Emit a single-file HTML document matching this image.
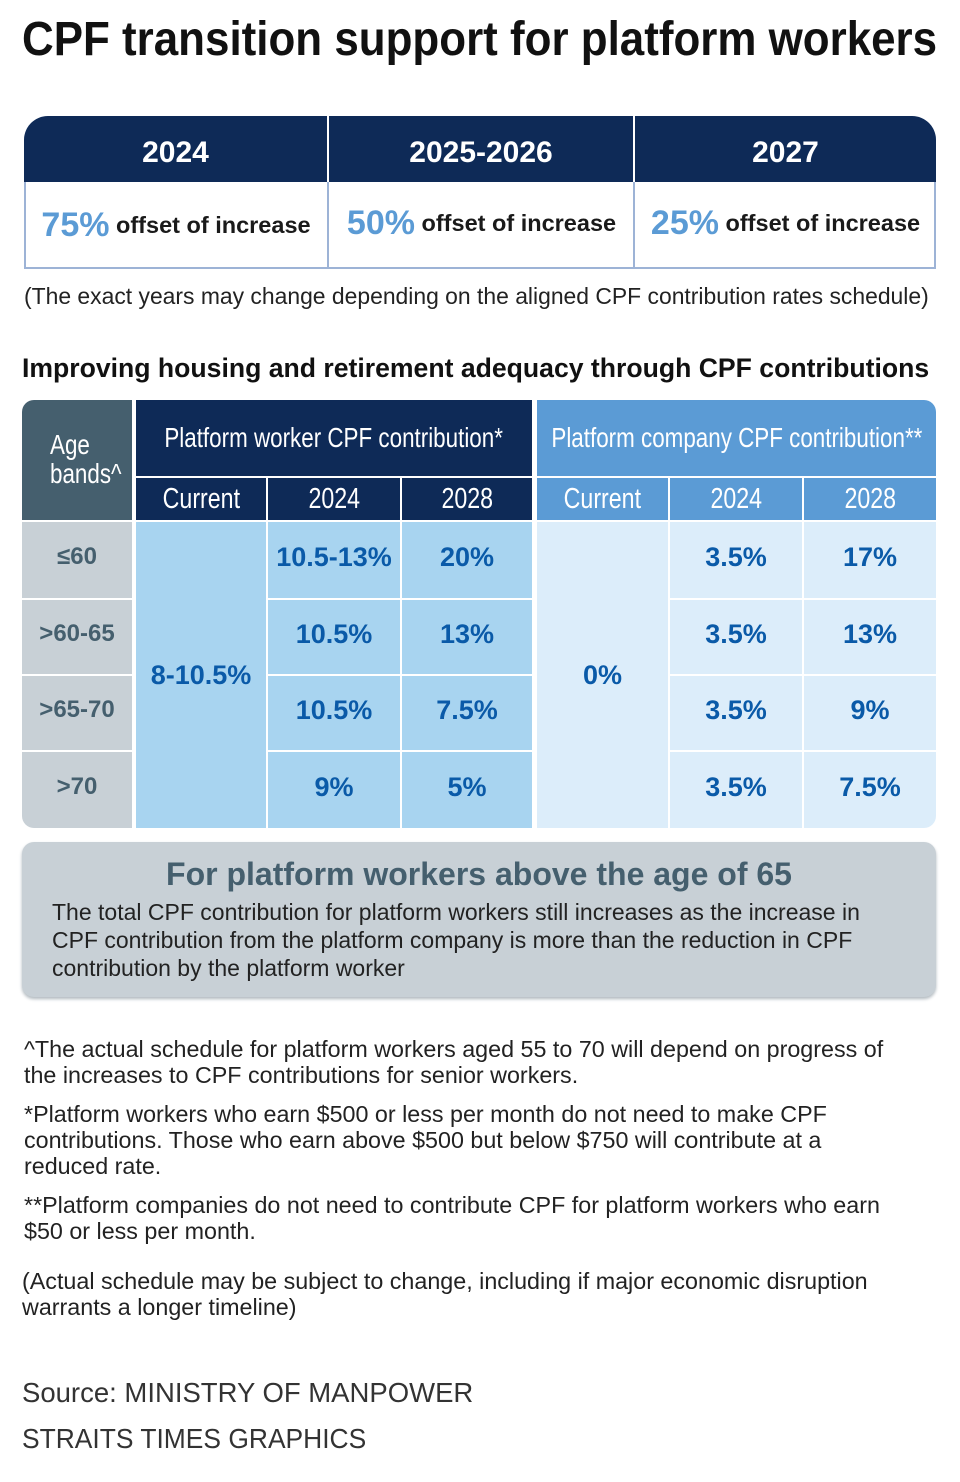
<!DOCTYPE html>
<html><head><meta charset="utf-8"><style>
body{margin:0;width:960px;height:1482px;background:#fff;position:relative;font-family:"Liberation Sans",sans-serif;color:#1a1a1a;overflow:hidden}
.a{position:absolute;box-sizing:border-box}
.c{display:flex;align-items:center;justify-content:center;text-align:center}
.n span{display:inline-block;transform:scaleX(0.8);white-space:nowrap}
.hd{background:#0e2a57;color:#fff}
.co{background:#5b9bd5;color:#fff}
.ag{background:#c8d0d6;color:#455f6e;font-weight:bold;font-size:24px}
.wv{background:#a8d4f0;color:#0a5aa8;font-weight:bold;font-size:27px}
.cv{background:#dcedfa;color:#0a5aa8;font-weight:bold;font-size:27px}
.off{font-size:23.5px;font-weight:bold;color:#1a1a1a}
.off b{font-size:34px;color:#5b9bd5}
.fn{font-size:23.3px;line-height:26px;color:#222}
</style></head><body>
<div class="a" style="left:22px;top:12px;font-size:48px;font-weight:bold;color:#111;white-space:nowrap;transform:scaleX(0.915);transform-origin:left top">CPF transition support for platform workers</div>

<div class="a" style="left:24px;top:116px;width:912px;height:153px;border:2px solid #9db3d6;border-top:none;border-radius:24px 24px 0 0;overflow:hidden"></div>
<div class="a hd c" style="left:24px;top:116px;width:303px;height:66px;font-size:30px;font-weight:bold;padding-top:8px;border-radius:24px 0 0 0">2024</div>
<div class="a hd c" style="left:329px;top:116px;width:304px;height:66px;font-size:30px;font-weight:bold;padding-top:8px">2025-2026</div>
<div class="a hd c" style="left:635px;top:116px;width:301px;height:66px;font-size:30px;font-weight:bold;padding-top:8px;border-radius:0 24px 0 0">2027</div>
<div class="a c off" style="left:24px;top:182px;width:304px;height:86px"><b>75%</b>&nbsp;offset of increase</div>
<div class="a" style="left:327px;top:182px;width:2px;height:86px;background:#9db3d6"></div>
<div class="a c off" style="left:329px;top:182px;width:305px;height:82px"><b>50%</b>&nbsp;offset of increase</div>
<div class="a" style="left:633px;top:182px;width:2px;height:86px;background:#9db3d6"></div>
<div class="a c off" style="left:635px;top:182px;width:301px;height:82px"><b>25%</b>&nbsp;offset of increase</div>
<div class="a" style="left:24px;top:283px;font-size:22.9px;color:#222;white-space:nowrap">(The exact years may change depending on the aligned CPF contribution rates schedule)</div>

<div class="a" style="left:22px;top:353px;font-size:26.6px;font-weight:bold;color:#111;white-space:nowrap">Improving housing and retirement adequacy through CPF contributions</div>

<div class="a n" style="left:22px;top:400px;width:110px;height:120px;background:#455f6e;color:#fff;font-size:28px;border-radius:12px 0 0 0;padding:30px 0 0 28px;line-height:29px"><span style="transform-origin:left">Age</span><br><span style="transform-origin:left">bands^</span></div>
<div class="a hd c n" style="left:136px;top:400px;width:396px;height:76px;font-size:28px"><span>Platform worker CPF contribution*</span></div>
<div class="a co c n" style="left:537px;top:400px;width:399px;height:76px;font-size:28px;border-radius:0 12px 0 0"><span>Platform company CPF contribution**</span></div>
<div class="a hd c n" style="left:136px;top:478px;width:130px;height:42px;font-size:29px"><span>Current</span></div>
<div class="a hd c n" style="left:268px;top:478px;width:132px;height:42px;font-size:29px"><span>2024</span></div>
<div class="a hd c n" style="left:402px;top:478px;width:130px;height:42px;font-size:29px"><span>2028</span></div>
<div class="a co c n" style="left:537px;top:478px;width:131px;height:42px;font-size:29px"><span>Current</span></div>
<div class="a co c n" style="left:670px;top:478px;width:132px;height:42px;font-size:29px"><span>2024</span></div>
<div class="a co c n" style="left:804px;top:478px;width:132px;height:42px;font-size:29px"><span>2028</span></div>

<div class="a wv c" style="left:136px;top:522px;width:130px;height:306px">8-10.5%</div>
<div class="a cv c" style="left:537px;top:522px;width:131px;height:306px">0%</div>

<div id="rows"></div>

<div class="a" style="left:22px;top:842px;width:914px;height:155px;background:#c8d0d6;border-radius:12px;box-shadow:0 2px 3px #b0b8be"></div>
<div class="a c" style="left:22px;top:854px;width:914px;height:40px;font-size:32px;font-weight:bold;color:#455f6e">For platform workers above the age of 65</div>
<div class="a" style="left:52px;top:898px;width:860px;font-size:23px;line-height:28px;color:#222">The total CPF contribution for platform workers still increases as the increase in CPF contribution from the platform company is more than the reduction in CPF contribution by the platform worker</div>

<div class="a fn" style="left:24px;top:1036px;width:880px">^The actual schedule for platform workers aged 55 to 70 will depend on progress of the increases to CPF contributions for senior workers.</div>
<div class="a fn" style="left:24px;top:1101px;width:850px">*Platform workers who earn $500 or less per month do not need to make CPF contributions. Those who earn above $500 but below $750 will contribute at a reduced rate.</div>
<div class="a fn" style="left:24px;top:1192px;width:900px">**Platform companies do not need to contribute CPF for platform workers who earn $50 or less per month.</div>
<div class="a fn" style="left:22px;top:1268px;width:880px">(Actual schedule may be subject to change, including if major economic disruption warrants a longer timeline)</div>
<div class="a" style="left:22px;top:1377px;font-size:27.5px;color:#333">Source: MINISTRY OF MANPOWER</div>
<div class="a" style="left:22px;top:1423px;font-size:27.5px;color:#333;transform:scaleX(0.96);transform-origin:left">STRAITS TIMES GRAPHICS</div>

<script>
const ageBands=["≤60",">60-65",">65-70",">70"];
const worker2024=["10.5-13%","10.5%","10.5%","9%"];
const worker2028=["20%","13%","7.5%","5%"];
const company2024=["3.5%","3.5%","3.5%","3.5%"];
const company2028=["17%","13%","9%","7.5%"];
const host=document.getElementById('rows');
const tops=[522,600,676,752],hs=[76,74,74,76];
function cell(cls,x,w,i,txt,name){
  const d=document.createElement('div');
  d.className='a c '+cls;
  d.style.cssText=`left:${x}px;top:${tops[i]}px;width:${w}px;height:${hs[i]}px;padding-bottom:6px`+(cls==='ag'&&i===3?';border-radius:0 0 0 12px':'')+(x===804&&i===3?';border-radius:0 0 12px 0':'');
  d.textContent=txt;
  
  
  host.appendChild(d);
}
ageBands.forEach((a,i)=>{
  cell('ag',22,110,i,a,'age-band-cell');
  cell('wv',268,132,i,worker2024[i],'worker-2024-cell');
  cell('wv',402,130,i,worker2028[i],'worker-2028-cell');
  cell('cv',670,132,i,company2024[i],'company-2024-cell');
  cell('cv',804,132,i,company2028[i],'company-2028-cell');
});
</script>
</body></html>
